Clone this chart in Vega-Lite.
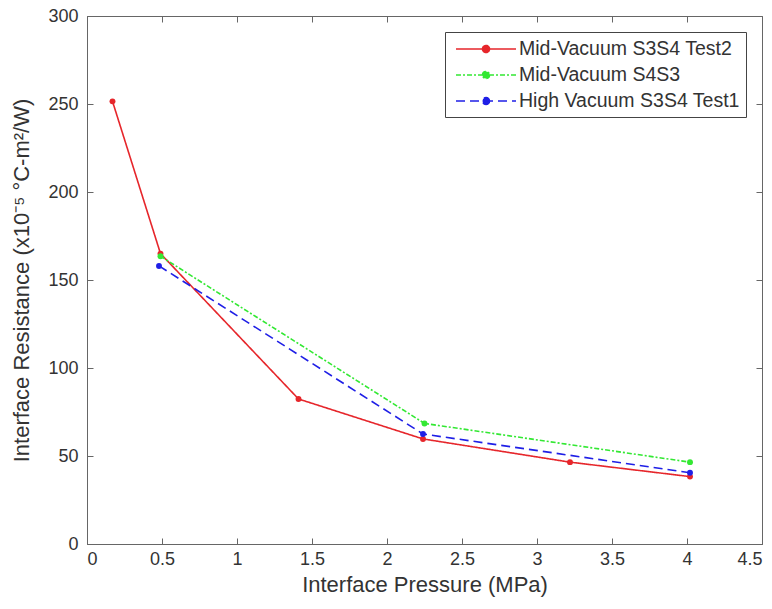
{
  "$schema": "https://vega.github.io/schema/vega-lite/v6.json",
  "autosize": "none",
  "width": 675,
  "height": 528,
  "padding": {"left": 87, "top": 16, "right": 10, "bottom": 65},
  "background": "white",
  "config": {
    "font": "Liberation Sans",
    "view": {"stroke": "#666666", "strokeWidth": 1},
    "axis": {
      "grid": false,
      "domainColor": "#666666",
      "tickColor": "#666666",
      "tickSize": -6,
      "labelColor": "#333333",
      "labelFontSize": 18,
      "titleColor": "#333333",
      "titleFontSize": 22,
      "titleFontWeight": "normal"
    }
  },
  "data": {
    "values": [
      {"series": "Mid-Vacuum S3S4 Test2", "p": 0.17, "r": 251.5},
      {"series": "Mid-Vacuum S3S4 Test2", "p": 0.49, "r": 165},
      {"series": "Mid-Vacuum S3S4 Test2", "p": 1.41, "r": 82.4},
      {"series": "Mid-Vacuum S3S4 Test2", "p": 2.24, "r": 59.7},
      {"series": "Mid-Vacuum S3S4 Test2", "p": 3.22, "r": 46.5},
      {"series": "Mid-Vacuum S3S4 Test2", "p": 4.02, "r": 38.3},
      {"series": "Mid-Vacuum S4S3", "p": 0.49, "r": 163.5},
      {"series": "Mid-Vacuum S4S3", "p": 2.25, "r": 68.5},
      {"series": "Mid-Vacuum S4S3", "p": 4.02, "r": 46.5},
      {"series": "High Vacuum S3S4 Test1", "p": 0.48, "r": 158},
      {"series": "High Vacuum S3S4 Test1", "p": 2.24, "r": 62.5},
      {"series": "High Vacuum S3S4 Test1", "p": 4.02, "r": 40.5}
    ]
  },
  "layer": [
    {
      "mark": {"type": "line", "strokeWidth": 1.6},
      "encoding": {
        "x": {"field": "p", "type": "quantitative", "scale": {"domain": [0, 4.5], "nice": false},
              "axis": {"title": "Interface Pressure (MPa)", "format": "~g", "values": [0,0.5,1,1.5,2,2.5,3,3.5,4,4.5], "labelPadding": 12, "titlePadding": 6}},
        "y": {"field": "r", "type": "quantitative", "scale": {"domain": [0, 300], "nice": false},
              "axis": {"title": "Interface Resistance (x10⁻⁵ °C-m²/W)", "values": [0,50,100,150,200,250,300], "labelPadding": 15, "titlePadding": 14}},
        "color": {"field": "series", "type": "nominal",
          "scale": {"domain": ["Mid-Vacuum S3S4 Test2", "Mid-Vacuum S4S3", "High Vacuum S3S4 Test1"], "range": ["#e6262b", "#33e833", "#1f1fe6"]},
          "legend": {
            "title": null, "orient": "top-right", "offset": 16,
            "strokeColor": "#444444", "fillColor": "white", "padding": 6,
            "labelFontSize": 19.5, "labelColor": "#333333", "labelLimit": 400,
            "symbolType": "M-0.6,0H5.4M2.75,0A0.35,0.35 0 1,1 2.05,0A0.35,0.35 0 1,1 2.75,0",
            "symbolSize": 400, "symbolStrokeWidth": 1.6, "rowPadding": 5, "labelOffset": 46,
            "encode": {"symbols": {"update": {"fill": {"scale": "color", "field": "value"}}}}
          }},
        "strokeDash": {"field": "series", "type": "nominal",
          "scale": {"domain": ["Mid-Vacuum S3S4 Test2", "Mid-Vacuum S4S3", "High Vacuum S3S4 Test1"], "range": [[1, 0], [5, 2, 2, 2], [9, 5]]}}
      }
    },
    {
      "mark": {"type": "point", "filled": true, "opacity": 1, "size": 35},
      "encoding": {
        "x": {"field": "p", "type": "quantitative", "scale": {"domain": [0, 4.5], "nice": false},
              "axis": {"orient": "top", "labels": false, "title": null, "values": [0,0.5,1,1.5,2,2.5,3,3.5,4,4.5], "domain": false}},
        "y": {"field": "r", "type": "quantitative", "scale": {"domain": [0, 300], "nice": false},
              "axis": {"orient": "right", "labels": false, "title": null, "values": [0,50,100,150,200,250,300], "domain": false}},
        "color": {"field": "series", "type": "nominal"}
      }
    }
  ],
  "resolve": {"scale": {"x": "independent", "y": "independent"}}
}
